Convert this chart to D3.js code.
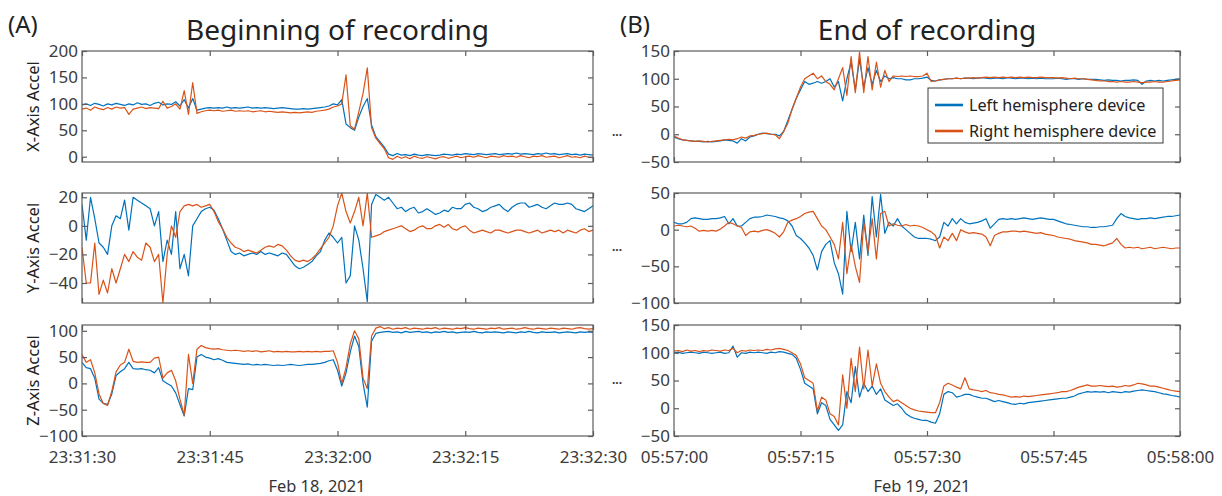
<!DOCTYPE html>
<html><head><meta charset="utf-8">
<script src="https://cdn.jsdelivr.net/npm/d3@7"></script>
<style>
html,body{margin:0;padding:0;background:#fff;}
svg{display:block;font-family:"Noto Sans",sans-serif;}
</style></head><body>
<svg id="chart" width="1222" height="496"></svg>
<script>
// ---------- DATA (samples every 0.5 s over one minute) ----------
const seriesNames = ["Left hemisphere device", "Right hemisphere device"];
const axisNames = ["X-Axis Accel", "Y-Axis Accel", "Z-Axis Accel"];
const panelTitles = ["Beginning of recording", "End of recording"];
const panelLetters = ["(A)", "(B)"];
const dateLabels = ["Feb 18, 2021", "Feb 19, 2021"];
const beginTimeLabels = ["23:31:30", "23:31:45", "23:32:00", "23:32:15", "23:32:30"];
const endTimeLabels = ["05:57:00", "05:57:15", "05:57:30", "05:57:45", "05:58:00"];
const beginYTicks = [[0, 50, 100, 150, 200], [-40, -20, 0, 20], [-100, -50, 0, 50, 100]];
const endYTicks = [[-50, 0, 50, 100, 150], [-100, -50, 0, 50], [-50, 0, 50, 100, 150]];
const beginYDomains = [[-10, 200], [-54, 23], [-100, 111]];
const endYDomains = [[-50, 150], [-100, 50], [-50, 150]];

// Beginning of recording — X axis
const beginXLeft = [
  98,100,97,101,99,96,100,98,101,99,
  97,100,98,102,99,100,97,101,103,98,
  100,99,104,96,108,92,110,88,90,92,
  93,92,93,92,94,92,93,92,93,94,
  92,93,92,93,92,91,92,93,92,91,
  90,90,91,90,91,92,93,94,96,100,
  98,108,62,55,50,75,95,110,60,38,
  28,18,5,2,6,3,4,2,5,3,
  2,4,3,2,3,5,4,3,5,4,
  6,5,4,6,5,4,5,6,4,5,
  6,5,7,5,6,5,4,6,5,7,
  5,6,4,5,6,4,5,3,5,4,
  3];
const beginXRight = [
  90,92,88,94,91,89,93,90,94,92,
  93,80,90,92,94,91,93,92,91,105,
  92,95,100,90,125,80,140,82,85,87,
  88,87,88,86,87,88,86,87,86,87,
  85,86,87,85,86,85,84,85,84,83,
  84,83,84,85,84,86,87,88,90,94,
  96,100,155,58,52,85,120,168,55,35,
  25,15,-2,-5,1,-3,0,-4,1,-2,
  -3,0,-2,-4,-1,0,-3,-1,1,-2,
  0,1,-1,2,0,-2,1,0,-1,2,
  0,1,-1,2,0,-2,1,0,2,-1,
  0,1,-2,0,2,-1,0,-2,1,-1,
  -2];
// Beginning of recording — Y axis
const beginYLeft = [
  15,-10,20,5,-12,-15,-20,0,7,5,
  18,-3,20,18,16,14,12,0,10,-25,
  -10,-20,10,-30,-20,-35,0,5,10,12,
  13,11,5,-2,-10,-18,-20,-19,-21,-20,
  -19,-20,-18,-20,-19,-20,-21,-19,-20,-24,
  -28,-30,-29,-27,-25,-21,-18,-10,-5,-8,
  -12,-8,-40,-35,0,-10,-30,-53,15,22,
  20,18,20,16,12,13,10,12,13,9,
  10,12,10,8,9,11,10,13,12,12,
  15,16,13,12,10,11,13,14,15,12,
  10,13,15,16,16,13,14,15,13,12,
  14,16,15,15,16,15,12,11,10,12,
  14];
const beginYRight = [
  -15,-40,-40,-12,-48,-38,-47,-30,-40,-30,
  -20,-25,-18,-22,-24,-12,-15,-25,-20,-54,
  -20,0,-8,10,14,15,14,15,13,14,
  15,10,3,-2,-8,-12,-15,-16,-18,-17,
  -18,-19,-17,-15,-14,-15,-13,-14,-17,-21,
  -24,-25,-24,-25,-23,-20,-16,-12,-8,0,
  14,23,10,2,10,20,0,23,-8,-7,
  -6,-4,-3,-2,-1,0,-2,-4,-3,-1,
  0,-2,-2,0,1,-1,1,-2,-3,-1,
  0,-3,-5,-4,-3,-4,-5,-3,-3,-4,
  -5,-4,-3,-3,-4,-5,-4,-3,-5,-4,
  -3,-4,-3,-5,-3,-4,-5,-3,-2,-4,
  -3];
// Beginning of recording — Z axis
const beginZLeft = [
  40,30,28,10,-30,-38,-40,-20,15,22,
  28,40,28,27,28,26,25,20,30,5,
  0,-5,-18,-40,-62,-10,-12,50,55,50,
  48,45,47,44,40,39,38,37,36,37,
  35,36,35,36,35,34,35,34,35,36,
  35,34,35,36,36,37,38,40,43,45,
  25,-5,20,60,90,70,0,-45,80,95,
  97,98,99,97,98,96,99,97,98,99,
  97,98,96,98,97,99,97,98,96,97,
  98,97,99,97,96,98,97,98,97,96,
  98,97,96,98,97,99,97,96,98,97,
  97,98,96,97,98,97,96,98,97,98,
  97];
const beginZRight = [
  55,40,45,20,-20,-38,-42,-15,22,35,
  40,65,42,40,41,40,40,48,50,10,
  20,25,5,-30,-60,55,0,65,72,68,
  66,65,66,64,63,62,63,62,61,62,
  61,62,60,61,62,60,61,60,61,60,
  60,61,60,61,60,61,60,61,61,62,
  40,0,30,75,100,85,10,-10,90,105,
  108,104,106,103,105,104,106,103,105,104,
  103,105,104,106,103,105,104,103,105,104,
  106,104,103,105,104,103,105,104,106,103,
  104,105,103,104,106,104,103,105,104,103,
  105,104,103,105,104,103,105,106,104,103,
  104];

// End of recording — X axis
const endXLeft = [
  -5,-8,-10,-11,-12,-13,-13,-14,-13,-14,
  -13,-12,-10,-11,-12,-16,-8,-12,-5,-3,
  0,2,1,0,0,-3,5,25,45,65,
  80,95,90,92,95,92,95,100,85,95,
  60,100,130,80,135,85,120,90,115,95,
  105,100,102,100,100,98,98,100,100,101,
  103,97,96,98,99,100,100,101,100,101,
  101,100,101,102,101,100,101,101,100,102,
  101,100,101,101,100,101,100,101,100,100,
  100,101,100,99,100,100,99,100,99,99,
  99,98,97,98,97,97,96,97,97,98,
  97,90,96,97,96,97,96,97,98,99,
  100];
const endXRight = [
  -3,-7,-10,-11,-12,-13,-12,-13,-14,-13,
  -12,-11,-10,-9,-10,-8,-5,-7,-3,-2,
  0,1,2,0,-1,-8,5,20,45,65,
  85,100,105,110,100,105,95,90,80,100,
  120,70,140,75,148,75,140,80,130,85,
  115,95,105,104,105,104,105,104,104,105,
  110,95,96,98,99,100,100,101,100,101,
  101,102,101,102,103,102,103,102,103,102,
  103,102,103,102,103,102,102,103,102,102,
  102,101,102,101,100,101,100,100,99,98,
  97,96,96,95,95,94,95,94,94,95,
  94,93,94,94,95,94,94,95,96,97,
  98];
// End of recording — Y axis
const endYLeft = [
  10,8,8,10,15,16,15,14,14,15,
  15,16,18,8,15,5,5,10,15,17,
  17,18,20,19,18,16,15,12,5,-8,
  -12,-18,-25,-35,-55,-30,-20,-15,-45,-60,
  -88,25,-30,10,-40,20,-35,45,-10,48,
  -5,10,5,15,5,0,-5,-10,-12,-12,
  -12,-13,-15,-10,10,5,15,8,15,10,
  8,9,10,12,15,2,8,14,15,14,
  15,14,15,16,15,14,15,16,15,14,
  14,12,10,8,7,6,5,4,4,3,
  3,4,4,5,6,15,22,18,16,15,
  14,15,15,16,15,16,17,18,18,19,
  20];
const endYRight = [
  5,6,5,4,5,2,-2,-1,-2,-1,
  -2,1,5,10,8,5,3,-8,-3,-2,
  -3,-1,0,-2,-5,-10,-3,10,13,15,
  18,22,24,25,15,5,0,-10,-20,-40,
  10,-60,-20,-50,-72,10,-30,15,-40,22,
  25,5,8,6,5,7,5,6,5,3,
  0,-3,-8,-25,-10,-15,-5,-15,0,-3,
  -5,-4,-5,-6,-10,-22,-8,-5,-3,-3,
  -2,-2,-3,-2,-3,-4,-5,-4,-6,-7,
  -8,-10,-11,-12,-13,-15,-16,-17,-18,-20,
  -20,-21,-22,-20,-18,-12,-20,-25,-24,-25,
  -24,-26,-25,-24,-26,-25,-24,-25,-26,-25,
  -25];
// End of recording — Z axis
const endZLeft = [
  100,101,99,100,101,100,99,101,100,99,
  100,101,99,100,112,92,100,99,101,100,
  101,100,99,101,100,102,101,99,97,90,
  70,45,40,35,-10,10,5,-20,-30,-40,
  -30,30,10,75,20,45,30,40,25,35,
  15,10,5,8,0,-10,-15,-18,-20,-22,
  -22,-25,-27,-10,25,30,28,20,22,25,
  25,22,20,18,18,15,12,14,12,10,
  8,7,9,8,10,11,12,13,14,15,
  16,17,18,18,20,22,26,28,30,29,
  30,29,30,28,30,29,28,30,29,31,
  32,33,32,31,30,28,26,25,23,22,
  20];
const endZRight = [
  103,104,102,105,103,104,102,104,103,105,
  104,103,105,104,108,100,104,103,105,104,
  105,104,106,105,107,108,106,104,100,95,
  80,55,50,45,-5,20,15,-10,-15,-30,
  60,0,90,30,110,35,105,40,80,45,
  30,20,12,15,10,5,0,-3,-5,-6,
  -7,-8,-8,10,40,45,42,38,35,55,
  35,33,32,30,32,28,27,25,24,22,
  20,21,20,22,21,22,23,24,25,26,
  27,28,30,30,32,35,38,40,42,40,
  40,41,40,39,40,38,39,41,40,42,
  45,44,42,40,40,38,36,34,32,31,
  30];

// ---------- LAYOUT ----------
const colors = ["#0072BD", "#D95319"];
const svg = d3.select("#chart");
const columns = [
  { x0: 82, x1: 593, start: new Date(2021, 1, 18, 23, 31, 30), labels: beginTimeLabels,
    ticks: beginYTicks, domains: beginYDomains, dateX: 317, letterX: 8,
    series: [[beginXLeft, beginXRight], [beginYLeft, beginYRight], [beginZLeft, beginZRight]] },
  { x0: 674, x1: 1180, start: new Date(2021, 1, 19, 5, 57, 0), labels: endTimeLabels,
    ticks: endYTicks, domains: endYDomains, dateX: 922, letterX: 620,
    series: [[endXLeft, endXRight], [endYLeft, endYRight], [endZLeft, endZRight]] }
];
const rows = [{ y0: 51, y1: 162 }, { y0: 193, y1: 303 }, { y0: 325, y1: 436 }];
const frameColor = "#5c5c5c", tickText = "#3c3c3c";

columns.forEach((col, ci) => {
  const end = new Date(col.start.getTime() + 60000);
  const x = d3.scaleTime().domain([col.start, end]).range([col.x0, col.x1]);
  const tickDates = d3.range(5).map(k => new Date(col.start.getTime() + k * 15000));
  rows.forEach((row, ri) => {
    const y = d3.scaleLinear().domain(col.domains[ri]).range([row.y1, row.y0]);
    const g = svg.append("g");
    const clipId = `clip-${ci}-${ri}`;
    svg.append("clipPath").attr("id", clipId).append("rect")
      .attr("x", col.x0).attr("y", row.y0).attr("width", col.x1 - col.x0).attr("height", row.y1 - row.y0);
    const plot = g.append("g").attr("clip-path", `url(#${clipId})`);
    col.series[ri].forEach((arr, si) => {
      const n = arr.length;
      const step = 60000 / (n - 1);
      const line = d3.line()
        .x((d, i) => x(new Date(col.start.getTime() + i * step)))
        .y(d => y(d));
      plot.append("path").datum(arr).attr("d", line)
        .attr("fill", "none").attr("stroke", colors[si])
        .attr("stroke-width", 1.2).attr("stroke-linejoin", "round");
    });
    // frame
    g.append("rect").attr("x", col.x0).attr("y", row.y0)
      .attr("width", col.x1 - col.x0).attr("height", row.y1 - row.y0)
      .attr("fill", "none").attr("stroke", frameColor).attr("stroke-width", 1.2);
    // axes
    const styleAxis = sel => {
      sel.select(".domain").remove();
      sel.selectAll(".tick line").attr("stroke", frameColor).attr("stroke-width", 1.2);
      sel.selectAll(".tick text").attr("fill", tickText).style("font-size", "17px")
        .style("font-family", '"Noto Sans", sans-serif');
    };
    g.append("g").attr("transform", `translate(${col.x0},0)`)
      .call(d3.axisLeft(y).tickValues(col.ticks[ri]).tickSizeInner(-5).tickSizeOuter(0).tickPadding(4))
      .call(styleAxis);
    g.append("g").attr("transform", `translate(${col.x1},0)`)
      .call(d3.axisRight(y).tickValues(col.ticks[ri]).tickSizeInner(-5).tickSizeOuter(0).tickFormat(""))
      .call(styleAxis);
    g.append("g").attr("transform", `translate(0,${row.y0})`)
      .call(d3.axisTop(x).tickValues(tickDates).tickSizeInner(-5).tickSizeOuter(0).tickFormat(""))
      .call(styleAxis);
    g.append("g").attr("transform", `translate(0,${row.y1})`)
      .call(d3.axisBottom(x).tickValues(tickDates).tickSizeInner(-5).tickSizeOuter(0).tickPadding(15)
        .tickFormat((d, i) => ri === 2 ? col.labels[i] : ""))
      .call(styleAxis);
    if (ci === 0) {
      svg.append("text")
        .attr("transform", `translate(39,${(row.y0 + row.y1) / 2}) rotate(-90)`)
        .attr("text-anchor", "middle").attr("fill", "#222").style("font-size", "16.5px")
        .text(axisNames[ri]);
    }
  });
  // titles
  svg.append("text").attr("x", (col.x0 + col.x1) / 2).attr("y", 40)
    .attr("text-anchor", "middle").attr("fill", "#222").style("font-size", "28px")
    .text(panelTitles[ci]);
  svg.append("text").attr("x", col.letterX).attr("y", 33)
    .attr("fill", "#222").style("font-size", "24px").text(panelLetters[ci]);
  svg.append("text").attr("x", col.dateX).attr("y", 492)
    .attr("text-anchor", "middle").attr("fill", "#333").style("font-size", "16.4px")
    .text(dateLabels[ci]);
});

// ellipsis markers between the two columns
[136, 251, 384].forEach(yy => {
  svg.append("text").attr("x", 617).attr("y", yy).attr("text-anchor", "middle")
    .attr("fill", "#333").style("font-size", "12px").style("font-weight", "bold").text("...");
});

// legend
const lg = svg.append("g");
lg.append("rect").attr("x", 928).attr("y", 88).attr("width", 235).attr("height", 55)
  .attr("fill", "#fff").attr("stroke", "#3a3a3a").attr("stroke-width", 1);
seriesNames.forEach((name, i) => {
  const yy = 105 + i * 26;
  lg.append("line").attr("x1", 935).attr("x2", 963).attr("y1", yy).attr("y2", yy)
    .attr("stroke", colors[i]).attr("stroke-width", 2.6);
  lg.append("text").attr("x", 969).attr("y", yy).attr("dy", "0.35em")
    .attr("fill", "#222").style("font-size", "16.2px").text(name);
});
</script>
</body></html>
